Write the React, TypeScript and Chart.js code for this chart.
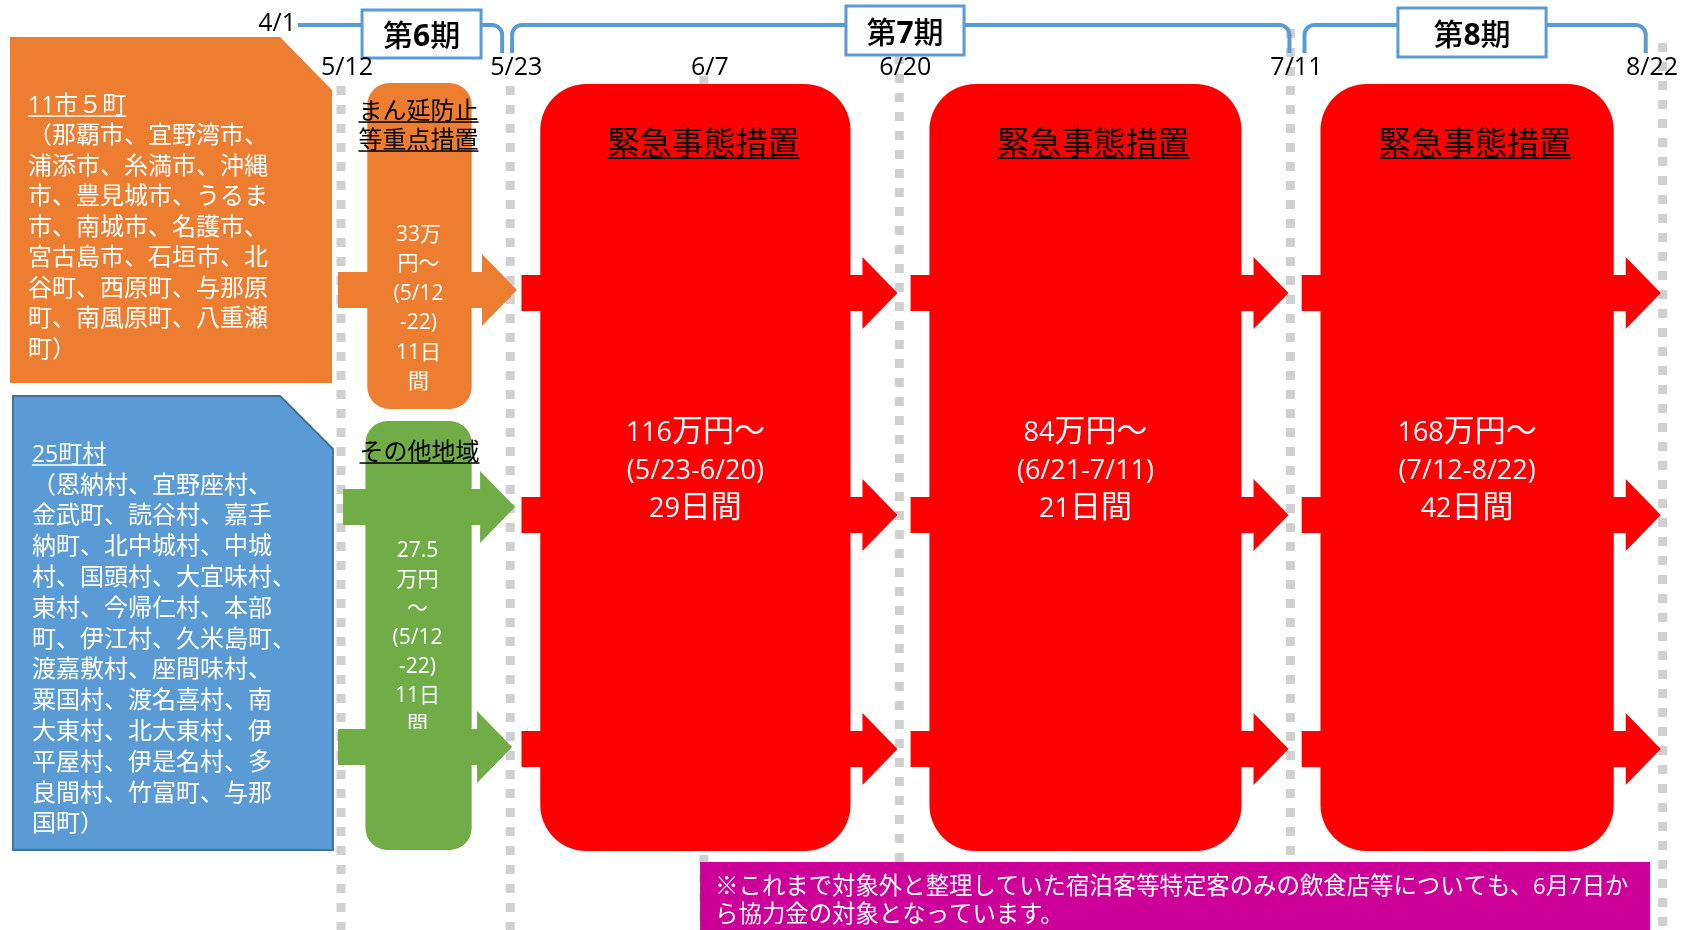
import React, { useEffect, useRef } from 'react';
import { Chart, registerables } from 'chart.js';

Chart.register(...registerables);

// ---------------- data ----------------
const START_LABEL = '4/1';
const DATE_LABELS = ['5/12', '5/23', '6/7', '6/20', '7/11', '8/22'];
// schematic timeline position of each date boundary (slot units)
const DATE_SLOTS = [0, 0.9, 1.93, 2.97, 5.05, 7.03];
const PERIOD_LABELS = ['第6期', '第7期', '第8期'];

const AREA_A_TITLE = '11市５町';
const AREA_A_LINES = [
  '（那覇市、宜野湾市、',
  '浦添市、糸満市、沖縄',
  '市、豊見城市、うるま',
  '市、南城市、名護市、',
  '宮古島市、石垣市、北',
  '谷町、西原町、与那原',
  '町、南風原町、八重瀬',
  '町）',
];
const AREA_B_TITLE = '25町村';
const AREA_B_LINES = [
  '（恩納村、宜野座村、',
  '金武町、読谷村、嘉手',
  '納町、北中城村、中城',
  '村、国頭村、大宜味村、',
  '東村、今帰仁村、本部',
  '町、伊江村、久米島町、',
  '渡嘉敷村、座間味村、',
  '粟国村、渡名喜村、南',
  '大東村、北大東村、伊',
  '平屋村、伊是名村、多',
  '良間村、竹富町、与那',
  '国町）',
];

const PRIORITY_TITLE = ['まん延防止', '等重点措置'];
const PRIORITY_LINES = ['33万', '円～', '(5/12', '-22)', '11日', '間'];
const OTHER_TITLE = ['その他地域'];
const OTHER_LINES = ['27.5', '万円', '～', '(5/12', '-22)', '11日', '間'];

const EMERGENCY_TITLE = '緊急事態措置';
// start / end date index (into DATE_LABELS) of each emergency period
const EMERGENCY_SPANS = [
  [1, 3],
  [3, 4],
  [4, 5],
];
const EMERGENCY_AMOUNTS = ['116万円～', '84万円～', '168万円～'];
const EMERGENCY_RANGES = ['(5/23-6/20)', '(6/21-7/11)', '(7/12-8/22)'];
const EMERGENCY_DAYS = ['29日間', '21日間', '42日間'];

const NOTE_LINES = [
  '※これまで対象外と整理していた宿泊客等特定客のみの飲食店等についても、6月7日か',
  'ら協力金の対象となっています。',
];

// ---------------- layout / style ----------------
const W = 1686;
const H = 930;
const C = {
  orange: '#ED7D31',
  blue: '#5B9BD5',
  blueDark: '#41719C',
  green: '#70AD47',
  red: '#FF0000',
  purple: '#CC0099',
  dot: '#D0D0D0',
  bracket: '#5B9BD5',
};
const CJK = '"Noto Sans CJK JP"';
const LAT = '"Open Sans"';

const LAYOUT = {
  dotTops: [86, 86, 76, 55, 29, 43],
  dateLabelY: 68,
  startLabel: { x: -0.34, y: 24 },
  bracketTop: 25,
  bracketBottom: 53,
  brackets: [
    { l: -0.229, r: DATE_SLOTS[1] - 0.043, curlLeft: false },
    { l: DATE_SLOTS[1] + 0.01, r: DATE_SLOTS[4] - 0.005, curlLeft: true },
    { l: DATE_SLOTS[4] + 0.075, r: DATE_SLOTS[5] - 0.09, curlLeft: true },
  ],
  periodBoxes: [
    { l: 0.112, r: 0.745, t: 10, b: 58 },
    { l: 2.686, r: 3.314, t: 6, b: 55 },
    { l: 5.622, r: 6.41, t: 8, b: 57 },
  ],
  panelA: { l: -1.761, r: -0.048, cut: -0.324, t: 37, b: 383, cutY: 90, tx: -1.665, ty: 104, lh: 30.5 },
  panelB: { l: -1.745, r: -0.043, cut: -0.324, t: 396, b: 850, cutY: 449, tx: -1.644, ty: 453, lh: 30.8 },
  smallL: 0.14,
  smallR: 0.205,
  priorityBox: { t: 83, b: 409 },
  otherBox: { t: 421, b: 850 },
  redInsetL: 0.16,
  redInsetR: 0.26,
  redBox: { t: 84, b: 851 },
  shaftH: 36,
  headH: 72,
  headL: 35,
  orangeRow: 290,
  greenRows: [507, 747],
  redRows: [293, 515, 749],
  note: { l: 1.91, r: 6.963, t: 862, b: 935, tx: 1.99, y1: 885, y2: 913 },
};

// ---------------- helpers ----------------
type Seg = { t: string; lat: boolean };
function splitSegs(text: string): Seg[] {
  const out: Seg[] = [];
  for (const ch of text) {
    const lat = ch.charCodeAt(0) < 0x2000;
    const last = out[out.length - 1];
    if (last && last.lat === lat) last.t += ch;
    else out.push({ t: ch, lat });
  }
  return out;
}

function drawMixed(
  ctx: CanvasRenderingContext2D,
  text: string,
  x: number,
  yc: number,
  align: 'left' | 'center',
  latFont: string,
  cjkFont: string,
  size: number,
  color: string,
  underline = 0
) {
  const ss = splitSegs(text);
  const ws = ss.map((s) => {
    ctx.font = s.lat ? latFont : cjkFont;
    return ctx.measureText(s.t).width;
  });
  const total = ws.reduce((a, b) => a + b, 0);
  let cx = align === 'center' ? x - total / 2 : x;
  const start = cx;
  const base = yc + size * 0.37;
  ctx.fillStyle = color;
  ctx.textAlign = 'left';
  ctx.textBaseline = 'alphabetic';
  ss.forEach((s, i) => {
    ctx.font = s.lat ? latFont : cjkFont;
    ctx.fillText(s.t, cx, base);
    cx += ws[i];
  });
  if (underline) ctx.fillRect(start, base + size * 0.1, total, underline);
  return total;
}

function roundRectPath(ctx: CanvasRenderingContext2D, x0: number, y0: number, x1: number, y1: number, r: number) {
  const rr = Math.min(r, (x1 - x0) / 2, (y1 - y0) / 2);
  ctx.beginPath();
  ctx.moveTo(x0 + rr, y0);
  ctx.lineTo(x1 - rr, y0);
  ctx.arcTo(x1, y0, x1, y0 + rr, rr);
  ctx.lineTo(x1, y1 - rr);
  ctx.arcTo(x1, y1, x1 - rr, y1, rr);
  ctx.lineTo(x0 + rr, y1);
  ctx.arcTo(x0, y1, x0, y1 - rr, rr);
  ctx.lineTo(x0, y0 + rr);
  ctx.arcTo(x0, y0, x0 + rr, y0, rr);
  ctx.closePath();
}

function arrowPath(ctx: CanvasRenderingContext2D, x0: number, x1: number, yc: number, sh: number, hh: number, hl: number) {
  ctx.beginPath();
  ctx.moveTo(x0, yc - sh / 2);
  ctx.lineTo(x1 - hl, yc - sh / 2);
  ctx.lineTo(x1 - hl, yc - hh / 2);
  ctx.lineTo(x1, yc);
  ctx.lineTo(x1 - hl, yc + hh / 2);
  ctx.lineTo(x1 - hl, yc + sh / 2);
  ctx.lineTo(x0, yc + sh / 2);
  ctx.closePath();
}

const diagramPlugin = {
  id: 'diagram',
  beforeDraw(chart: any) {
    const ctx = chart.ctx as CanvasRenderingContext2D;
    ctx.save();
    ctx.fillStyle = '#ffffff';
    ctx.fillRect(0, 0, chart.width, chart.height);
    ctx.restore();
  },
  afterDraw(chart: any) {
    const ctx = chart.ctx as CanvasRenderingContext2D;
    const xs = chart.scales.x;
    const ys = chart.scales.y;
    const X = (v: number) => xs.getPixelForValue(v);
    const Y = (v: number) => ys.getPixelForValue(v);
    const L = LAYOUT;
    ctx.save();

    // dotted date lines
    ctx.save();
    ctx.strokeStyle = C.dot;
    ctx.lineWidth = 9;
    ctx.setLineDash([9, 10]);
    DATE_SLOTS.forEach((s, i) => {
      const x = X(s);
      ctx.beginPath();
      ctx.moveTo(x, Y(L.dotTops[i]));
      ctx.lineTo(x, Y(H));
      ctx.stroke();
    });
    ctx.restore();

    // brackets
    ctx.save();
    ctx.strokeStyle = C.bracket;
    ctx.lineWidth = 4;
    ctx.lineJoin = 'round';
    const yt = Y(L.bracketTop);
    const yb = Y(L.bracketBottom);
    const br = 10;
    L.brackets.forEach((b) => {
      const xl = X(b.l);
      const xr = X(b.r);
      ctx.beginPath();
      if (b.curlLeft) {
        ctx.moveTo(xl, yb);
        ctx.arcTo(xl, yt, xl + br, yt, br);
      } else {
        ctx.moveTo(xl, yt);
      }
      ctx.arcTo(xr, yt, xr, yt + br, br);
      ctx.lineTo(xr, yb);
      ctx.stroke();
    });
    ctx.restore();

    // period boxes
    L.periodBoxes.forEach((p, i) => {
      const x0 = X(p.l);
      const x1 = X(p.r);
      const y0 = Y(p.t);
      const y1 = Y(p.b);
      ctx.fillStyle = '#ffffff';
      ctx.fillRect(x0, y0, x1 - x0, y1 - y0);
      ctx.strokeStyle = C.bracket;
      ctx.lineWidth = 3;
      ctx.strokeRect(x0, y0, x1 - x0, y1 - y0);
      drawMixed(ctx, PERIOD_LABELS[i], (x0 + x1) / 2, (y0 + y1) / 2 + 1, 'center', `bold 30px ${LAT}`, `500 30px ${CJK}`, 30, '#000');
    });

    // date labels
    ctx.fillStyle = '#000';
    ctx.font = `25px ${LAT}`;
    ctx.textBaseline = 'middle';
    ctx.textAlign = 'center';
    ctx.fillText(START_LABEL, X(L.startLabel.x), Y(L.startLabel.y));
    DATE_LABELS.forEach((d, i) => {
      const w = ctx.measureText(d).width;
      let x = X(DATE_SLOTS[i]) + 6;
      x = Math.min(x, chart.width - w / 2 - 8);
      ctx.fillText(d, x, Y(L.dateLabelY));
    });

    // left panels
    const panel = (p: any, fill: string, stroke: string | null, title: string, lines: string[]) => {
      const x0 = X(p.l), x1 = X(p.r), xc = X(p.cut);
      const y0 = Y(p.t), y1 = Y(p.b), yc = Y(p.cutY);
      ctx.beginPath();
      ctx.moveTo(x0, y0);
      ctx.lineTo(xc, y0);
      ctx.lineTo(x1, yc);
      ctx.lineTo(x1, y1);
      ctx.lineTo(x0, y1);
      ctx.closePath();
      ctx.fillStyle = fill;
      ctx.fill();
      if (stroke) {
        ctx.strokeStyle = stroke;
        ctx.lineWidth = 2;
        ctx.stroke();
      }
      const tx = X(p.tx);
      drawMixed(ctx, title, tx, Y(p.ty), 'left', `23px ${LAT}`, `24px ${CJK}`, 24, '#fff', 1.5);
      lines.forEach((ln, i) => {
        drawMixed(ctx, ln, tx, Y(p.ty + p.lh * (i + 1)), 'left', `23px ${LAT}`, `24px ${CJK}`, 24, '#fff');
      });
    };
    panel(L.panelA, C.orange, null, AREA_A_TITLE, AREA_A_LINES);
    panel(L.panelB, C.blue, C.blueDark, AREA_B_TITLE, AREA_B_LINES);

    const sh = L.shaftH, hh = L.headH, hl = L.headL;
    const sx0 = X(DATE_SLOTS[0] + L.smallL);
    const sx1 = X(DATE_SLOTS[1] - L.smallR);
    const scx = (sx0 + sx1) / 2;

    // orange arrow (behind box)
    ctx.fillStyle = C.orange;
    arrowPath(ctx, X(DATE_SLOTS[0] - 0.016), X(DATE_SLOTS[1] + 0.036), Y(L.orangeRow), sh, hh, hl);
    ctx.fill();
    // priority box
    roundRectPath(ctx, sx0, Y(L.priorityBox.t), sx1, Y(L.priorityBox.b), 22);
    ctx.fillStyle = C.orange;
    ctx.fill();
    PRIORITY_TITLE.forEach((t, i) => {
      drawMixed(ctx, t, scx - 1, Y(110 + i * 29), 'center', `24px ${LAT}`, `24px ${CJK}`, 24, '#000', 1.5);
    });
    PRIORITY_LINES.forEach((t, i) => {
      drawMixed(ctx, t, scx - 1, Y(233 + i * 29.5), 'center', `21px ${LAT}`, `21px ${CJK}`, 21, '#fff');
    });

    // other-area box
    roundRectPath(ctx, X(DATE_SLOTS[0] + L.smallL - 0.01), Y(L.otherBox.t), sx1, Y(L.otherBox.b), 22);
    ctx.fillStyle = C.green;
    ctx.fill();
    OTHER_TITLE.forEach((t, i) => {
      drawMixed(ctx, t, scx, Y(451 + i * 29), 'center', `24px ${LAT}`, `24px ${CJK}`, 24, '#000', 1.5);
    });
    OTHER_LINES.forEach((t, i) => {
      drawMixed(ctx, t, scx - 2, Y(549 + i * 29), 'center', `21px ${LAT}`, `21px ${CJK}`, 21, '#fff');
    });
    // green arrows (in front)
    ctx.fillStyle = C.green;
    arrowPath(ctx, X(DATE_SLOTS[0] + 0.011), X(DATE_SLOTS[1] + 0.026), Y(L.greenRows[0]), sh, hh, hl);
    ctx.fill();
    arrowPath(ctx, X(DATE_SLOTS[0] - 0.016), X(DATE_SLOTS[1] + 0.01), Y(L.greenRows[1]), sh, hh, hl);
    ctx.fill();

    // emergency measure boxes
    EMERGENCY_SPANS.forEach(([a, b], k) => {
      const s0 = DATE_SLOTS[a];
      const s1 = DATE_SLOTS[b];
      ctx.fillStyle = C.red;
      L.redRows.forEach((row) => {
        arrowPath(ctx, X(s0 + 0.06), X(s1 - 0.01), Y(row), sh, hh, hl);
        ctx.fill();
      });
      const x0 = X(s0 + L.redInsetL);
      const x1 = X(s1 - L.redInsetR);
      roundRectPath(ctx, x0, Y(L.redBox.t), x1, Y(L.redBox.b), 46);
      ctx.fillStyle = C.red;
      ctx.fill();
      const cx = (x0 + x1) / 2;
      drawMixed(ctx, EMERGENCY_TITLE, cx + 8, Y(142), 'center', `32px ${LAT}`, `32px ${CJK}`, 32, '#000', 2);
      drawMixed(ctx, EMERGENCY_AMOUNTS[k], cx, Y(430), 'center', `27px ${LAT}`, `31px ${CJK}`, 31, '#fff');
      drawMixed(ctx, EMERGENCY_RANGES[k], cx, Y(468), 'center', `27px ${LAT}`, `31px ${CJK}`, 31, '#fff');
      drawMixed(ctx, EMERGENCY_DAYS[k], cx, Y(506), 'center', `27px ${LAT}`, `31px ${CJK}`, 31, '#fff');
    });

    // note box
    const n = L.note;
    ctx.fillStyle = C.purple;
    ctx.fillRect(X(n.l), Y(n.t), X(n.r) - X(n.l), Y(n.b) - Y(n.t));
    drawMixed(ctx, NOTE_LINES[0], X(n.tx), Y(n.y1), 'left', `22px ${LAT}`, `23.4px ${CJK}`, 23, '#fff');
    drawMixed(ctx, NOTE_LINES[1], X(n.tx), Y(n.y2), 'left', `22px ${LAT}`, `23.4px ${CJK}`, 23, '#fff');

    ctx.restore();
  },
};

export default function App() {
  const ref = useRef<HTMLCanvasElement | null>(null);
  useEffect(() => {
    if (!ref.current) return;
    const slotPx = 188;
    const originPx = 341;
    const chart = new Chart(ref.current, {
      type: 'scatter',
      data: { datasets: [] },
      options: {
        animation: false,
        responsive: false,
        devicePixelRatio: 1,
        layout: { padding: 0 },
        plugins: { legend: { display: false }, tooltip: { enabled: false } },
        events: [],
        scales: {
          x: { type: 'linear', display: false, min: -originPx / slotPx, max: (W - originPx) / slotPx },
          y: { type: 'linear', display: false, min: 0, max: H, reverse: true },
        },
      },
      plugins: [diagramPlugin],
    } as any);
    return () => chart.destroy();
  }, []);
  return (
    <div style={{ position: 'fixed', left: 0, top: 0, width: W, height: H, background: '#fff', overflow: 'hidden' }}>
      <canvas ref={ref} width={W} height={H} style={{ display: 'block', width: W, height: H }} />
    </div>
  );
}
